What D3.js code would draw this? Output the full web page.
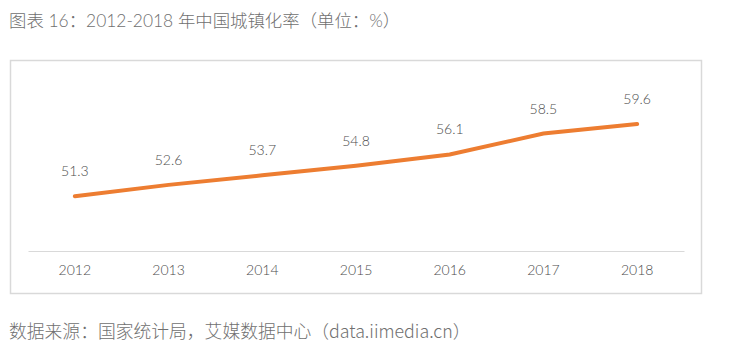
<!DOCTYPE html>
<html>
<head>
<meta charset="utf-8">
<script src="https://cdn.jsdelivr.net/npm/d3@7"></script>
<style>
  body { margin: 0; background: #fff; }
  svg { display: block; font-family: "Lato", "Noto Sans CJK SC", sans-serif; }
</style>
</head>
<body>
<svg id="chart" width="739" height="362"></svg>
<script>
var years = ["2012", "2013", "2014", "2015", "2016", "2017", "2018"];
var rates = [51.3, 52.6, 53.7, 54.8, 56.1, 58.5, 59.6];

var svg = d3.select("#chart");
var cjk = "\"Noto Sans CJK SC\", sans-serif";

// Title
svg.append("text")
    .attr("x", 9)
    .attr("y", 27)
    .style("font-family", "Lato, " + cjk)
    .style("font-size", "17.4px")
    .style("font-weight", 300)
    .style("fill", "#707070")
    .text("图表 16：2012-2018 年中国城镇化率（单位：%）");

// Chart box
svg.append("rect")
    .attr("x", 10.5)
    .attr("y", 60.5)
    .attr("width", 691)
    .attr("height", 233)
    .attr("fill", "#fff")
    .attr("stroke", "#d9d9d9")
    .attr("stroke-width", 1.5);

var plot = { l: 28, r: 684, t: 77, b: 251 };

var xScale = d3.scaleBand().domain(years).range([plot.l, plot.r]);
var yScale = d3.scaleLinear().domain([45, 65]).range([plot.b, plot.t]);

// Baseline axis
var xAxis = d3.axisBottom(xScale).tickSize(0).tickPadding(14);
var axisG = svg.append("g")
    .attr("transform", `translate(0,${plot.b})`)
    .call(xAxis);
axisG.select(".domain").attr("stroke", "#d9d9d9").attr("stroke-width", 1.2);
axisG.selectAll("text")
    .style("font-family", "Lato, sans-serif")
    .style("font-size", "14px")
    .style("font-weight", 300)
    .style("fill", "#4d4d4d");

var cx = d => xScale(d) + xScale.bandwidth() / 2;

// Line
var line = d3.line()
    .x((d, i) => cx(years[i]))
    .y(d => yScale(d));

svg.append("path")
    .datum(rates)
    .attr("fill", "none")
    .attr("stroke", "#ed7d31")
    .attr("stroke-width", 4)
    .attr("stroke-linecap", "round")
    .attr("d", line);

// Value labels
svg.selectAll(".label")
    .data(rates)
    .enter()
    .append("text")
    .attr("class", "label")
    .attr("x", (d, i) => cx(years[i]))
    .attr("y", d => yScale(d) - 20)
    .attr("text-anchor", "middle")
    .style("font-family", "Lato, sans-serif")
    .style("font-size", "14px")
    .style("font-weight", 300)
    .style("fill", "#4d4d4d")
    .text(d => d.toFixed(1));

// Source
svg.append("text")
    .attr("x", 9)
    .attr("y", 338)
    .style("font-family", cjk)
    .style("font-size", "17.8px")
    .style("font-weight", 300)
    .style("fill", "#707070")
    .text("数据来源：国家统计局，艾媒数据中心（data.iimedia.cn）");
</script>
</body>
</html>
